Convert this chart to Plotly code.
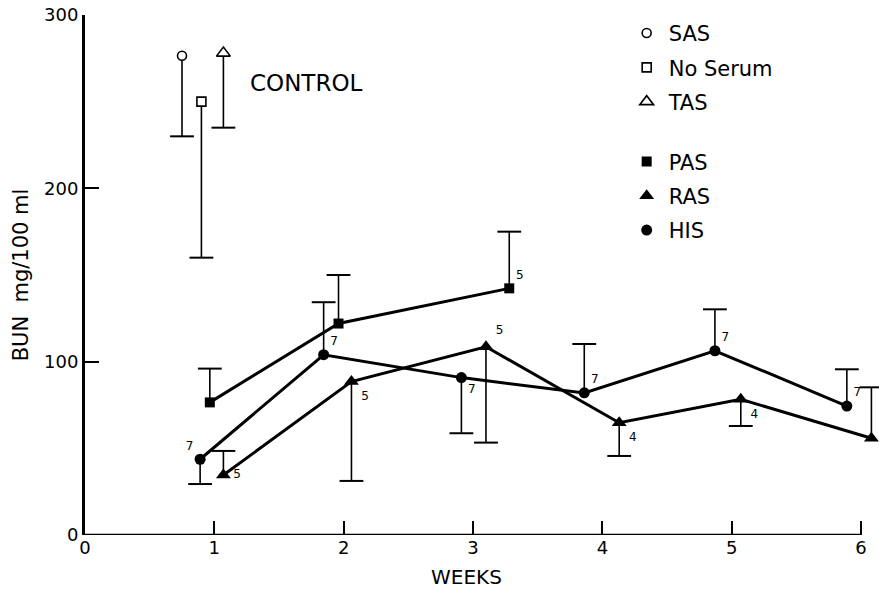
import plotly.graph_objects as go

# ---------------- data ----------------
ctrl_names = ["SAS", "No Serum", "TAS"]
ctrl_weeks = [0.75, 0.90, 1.07]
ctrl_bun = [276.5, 250.0, 278.0]
ctrl_err_minus = [46.5, 90.0, 43.0]
ctrl_symbols = ["circle", "square", "triangle-up"]

pas_weeks = [0.965, 1.96, 3.28]
pas_bun = [76.5, 122.0, 142.3]
pas_err_plus = [19.5, 28.0, 32.7]
pas_err_minus = [0.0, 0.0, 0.0]
pas_n = ["", "", "5"]

ras_weeks = [1.07, 2.06, 3.10, 4.13, 5.07, 6.08]
ras_bun = [34.6, 88.5, 108.6, 64.8, 78.3, 55.8]
ras_err_plus = [13.9, 0.0, 0.0, 0.0, 0.0, 29.4]
ras_err_minus = [0.0, 57.3, 55.3, 19.2, 15.4, 0.0]
ras_n = ["5", "5", "5", "4", "4", ""]

his_weeks = [0.89, 1.845, 2.91, 3.86, 4.87, 5.89]
his_bun = [43.7, 104.0, 90.8, 82.0, 106.3, 74.4]
his_err_plus = [0.0, 30.3, 0.0, 28.2, 23.9, 21.2]
his_err_minus = [14.3, 0.0, 32.1, 0.0, 0.0, 0.0]
his_n = ["7", "7", "7", "7", "7", "7"]

x_ticks = [0, 1, 2, 3, 4, 5, 6]
y_ticks = [0, 100, 200, 300]

# ---------------- styles ----------------
FONT = "DejaVu Sans"
BLACK = "black"
his_textpos = ["top left", "top right", "bottom right", "top right", "top right", "top right"]
ras_textpos = ["middle right", "bottom right", "top right", "bottom right", "bottom right", "top right"]
pas_textpos = ["top right", "top right", "top right"]

fig = go.Figure()


def add_errorbars(xs, ys, plus, minus):
    sx, sy, cx, cy = [], [], [], []
    for x, y, p, m in zip(xs, ys, plus, minus):
        if p > 0:
            sx += [x, x, None]
            sy += [y, y + p, None]
            cx.append(x)
            cy.append(y + p)
        if m > 0:
            sx += [x, x, None]
            sy += [y, y - m, None]
            cx.append(x)
            cy.append(y - m)
    fig.add_trace(go.Scatter(x=sx, y=sy, mode="lines", line=dict(color=BLACK, width=1.6),
                             showlegend=False, hoverinfo="skip", cliponaxis=False))
    fig.add_trace(go.Scatter(x=cx, y=cy, mode="markers",
                             marker=dict(symbol="line-ew", size=17, line=dict(color=BLACK, width=2)),
                             showlegend=False, hoverinfo="skip", cliponaxis=False))


add_errorbars(ctrl_weeks, ctrl_bun, [0, 0, 0], ctrl_err_minus)
add_errorbars(pas_weeks, pas_bun, pas_err_plus, pas_err_minus)
add_errorbars(ras_weeks, ras_bun, ras_err_plus, ras_err_minus)
add_errorbars(his_weeks, his_bun, his_err_plus, his_err_minus)

# connecting lines
for xs, ys in [(pas_weeks, pas_bun), (ras_weeks, ras_bun), (his_weeks, his_bun)]:
    fig.add_trace(go.Scatter(x=xs, y=ys, mode="lines", line=dict(color=BLACK, width=3),
                             showlegend=False, hoverinfo="skip", cliponaxis=False))

# control markers (open)
for name, x, y, sym in zip(ctrl_names, ctrl_weeks, ctrl_bun, ctrl_symbols):
    size = 12 if sym == "triangle-up" else 9
    fig.add_trace(go.Scatter(x=[x], y=[y], mode="markers", name=name, legend="legend",
                             legendgroup=name,
                             marker=dict(symbol=sym, size=size, color="white",
                                         line=dict(color=BLACK, width=1.6)),
                             cliponaxis=False))

# filled markers
for name, xs, ys, sym, size in [("PAS", pas_weeks, pas_bun, "square", 10),
                                ("RAS", ras_weeks, ras_bun, "triangle-up", 13),
                                ("HIS", his_weeks, his_bun, "circle", 11)]:
    fig.add_trace(go.Scatter(x=xs, y=ys, mode="markers", name=name, legend="legend2",
                             legendgroup=name,
                             marker=dict(symbol=sym, size=size, color=BLACK,
                                         line=dict(color=BLACK, width=0)),
                             cliponaxis=False))

# n labels (transparent markers so text sits beside the symbol)
for xs, ys, txt, pos, msz in [(pas_weeks, pas_bun, pas_n, pas_textpos, 9),
                              (ras_weeks, ras_bun, ras_n, ras_textpos, 14),
                              (his_weeks, his_bun, his_n, his_textpos, 9)]:
    fig.add_trace(go.Scatter(x=xs, y=ys, mode="markers+text", text=txt, textposition=pos,
                             marker=dict(size=msz, color="rgba(0,0,0,0)"),
                             textfont=dict(family=FONT, size=12, color=BLACK),
                             showlegend=False, hoverinfo="skip", cliponaxis=False))

# x axis line only up to week 6
fig.add_shape(type="line", xref="x", yref="y", x0=0, x1=6, y0=0, y1=0,
              line=dict(color=BLACK, width=2.5))

fig.add_annotation(x=1.71, y=261, xref="x", yref="y", text="CONTROL", showarrow=False,
                   font=dict(family=FONT, size=23, color=BLACK))
fig.add_annotation(x=2.95, y=0, xref="x", yref="paper", yshift=-42, text="WEEKS",
                   showarrow=False, yanchor="middle",
                   font=dict(family=FONT, size=20, color=BLACK))

fig.update_layout(
    width=879, height=589,
    margin=dict(l=85, r=5, t=15, b=54),
    paper_bgcolor="white", plot_bgcolor="white",
    font=dict(family=FONT, color=BLACK),
    legend=dict(x=0.684, y=1.004, xanchor="left", yanchor="top",
                font=dict(family=FONT, size=21, color=BLACK),
                traceorder="grouped", tracegroupgap=4, bgcolor="rgba(0,0,0,0)",
                itemwidth=34, itemclick=False),
    legend2=dict(x=0.684, y=0.757, xanchor="left", yanchor="top",
                 font=dict(family=FONT, size=21, color=BLACK),
                 traceorder="grouped", tracegroupgap=4, bgcolor="rgba(0,0,0,0)",
                 itemwidth=34, itemclick=False),
)
fig.update_xaxes(range=[0, 6.1], tickvals=x_ticks, ticktext=[str(v) for v in x_ticks],
                 ticks="inside", ticklen=14, tickwidth=2, tickcolor=BLACK,
                 showline=False, showgrid=False, zeroline=False,
                 tickfont=dict(family=FONT, size=18, color=BLACK))
fig.update_yaxes(range=[0, 300], tickvals=y_ticks, ticktext=[str(v) for v in y_ticks],
                 ticks="inside", ticklen=14, tickwidth=2, tickcolor=BLACK,
                 showline=True, linewidth=3, linecolor=BLACK,
                 showgrid=False, zeroline=False,
                 title=dict(text="BUN  mg/100 ml", font=dict(family=FONT, size=21, color=BLACK),
                            standoff=10),
                 tickfont=dict(family=FONT, size=18, color=BLACK))

fig.write_html("out.html")
